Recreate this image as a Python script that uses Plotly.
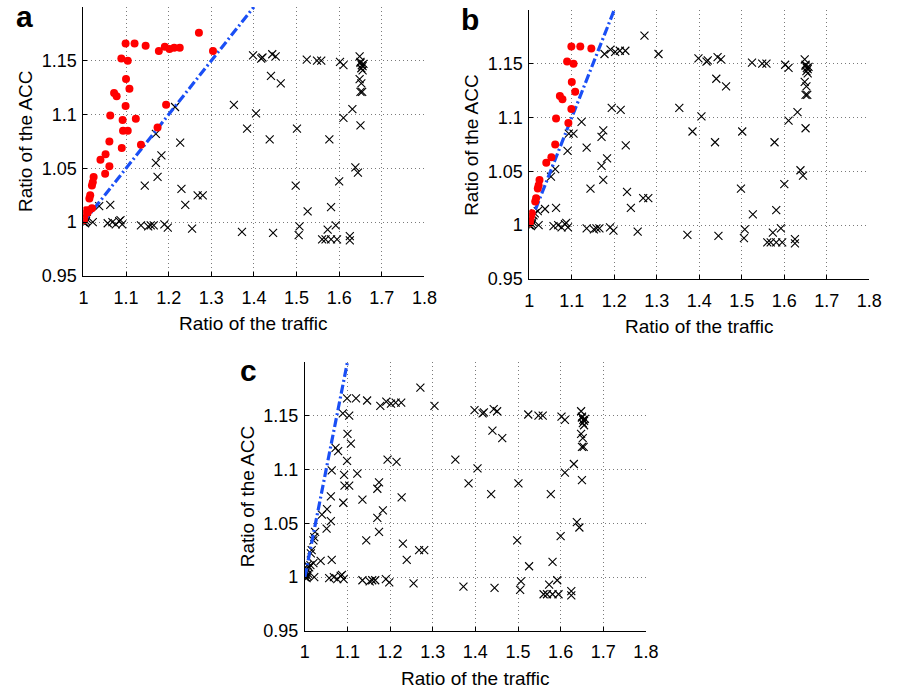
import plotly.graph_objects as go

# ---- data (ratio of traffic, ratio of ACC) ----
traffic = [
    1.271, 1.099, 1.120, 1.146, 1.177, 1.191, 1.202, 1.213, 1.226, 1.304,
    1.089, 1.104, 1.100, 1.108, 1.072, 1.078, 1.099, 1.063, 1.092, 1.123,
    1.194, 1.093, 1.104, 1.174, 1.061, 1.090, 1.135, 1.052, 1.040, 1.061,
    1.051, 1.024, 1.022, 1.020, 1.016, 1.014, 1.020,
    1.002, 1.004, 1.006, 1.010, 1.013, 1.000, 1.002, 1.004, 1.006, 1.001, 1.008,
    1.215, 1.170, 1.227, 1.183, 1.170, 1.174, 1.144, 1.230, 1.239, 1.268,
    1.280, 1.037, 1.063, 1.022, 1.057, 1.068, 1.076, 1.087, 1.091, 1.084,
    1.135, 1.152, 1.158, 1.165, 1.190, 1.198, 1.255, 1.372, 1.445,
    1.398, 1.417, 1.420, 1.443, 1.451, 1.440, 1.463, 1.353, 1.405, 1.384,
    1.437, 1.501, 1.524, 1.548, 1.558, 1.602, 1.610, 1.577, 1.610, 1.631,
    1.650, 1.498, 1.526, 1.581, 1.600, 1.638, 1.644, 1.507, 1.505, 1.573,
    1.592, 1.560, 1.568, 1.581, 1.595, 1.625, 1.625,
    1.648, 1.650, 1.653, 1.655, 1.652, 1.657, 1.655, 1.650, 1.648, 1.652,
    1.650, 1.654,
]
acc = [
    1.176, 1.166, 1.166, 1.164, 1.159, 1.163, 1.161, 1.162, 1.162, 1.159,
    1.152, 1.150, 1.133, 1.124, 1.120, 1.117, 1.108, 1.099, 1.095, 1.096,
    1.109, 1.085, 1.085, 1.088, 1.075, 1.069, 1.072, 1.063, 1.058, 1.052,
    1.045, 1.042, 1.037, 1.034, 1.025, 1.022, 1.013,
    1.004, 1.008, 1.011, 1.009, 1.011, 1.000, 1.000, 0.999, 1.001, 1.002, 1.003,
    1.107, 1.082, 1.074, 1.062, 1.055, 1.042, 1.034, 1.031, 1.016, 1.025,
    1.025, 1.015, 1.016, 1.000, 0.999, 1.000, 0.998, 1.002, 0.998, 1.001,
    0.997, 0.996, 0.997, 0.997, 0.998, 0.995, 0.994, 0.991, 0.990,
    1.155, 1.152, 1.153, 1.156, 1.154, 1.136, 1.129, 1.109, 1.101, 1.087,
    1.077, 1.087, 1.151, 1.150, 1.150, 1.149, 1.146, 1.077, 1.097, 1.105,
    1.090, 1.034, 1.010, 1.014, 1.038, 1.051, 1.046, 0.996, 0.988, 0.993,
    0.997, 0.984, 0.984, 0.984, 0.984, 0.987, 0.983,
    1.154, 1.148, 1.146, 1.145, 1.143, 1.147, 1.141, 1.149, 1.133, 1.129,
    1.121, 1.121,
]

panel_labels = ["a", "b", "c"]
line_slopes = [0.5, 1.0, 2.0]        # blue dash-dot reference line per panel
highlight = [True, True, False]      # red dots for points above the line

x_ticks = [1, 1.1, 1.2, 1.3, 1.4, 1.5, 1.6, 1.7, 1.8]
x_tick_text = ["1", "1.1", "1.2", "1.3", "1.4", "1.5", "1.6", "1.7", "1.8"]
y_ticks = [0.95, 1.0, 1.05, 1.1, 1.15]
y_tick_text = ["0.95", "1", "1.05", "1.1", "1.15"]
x_title = "Ratio of the traffic"
y_title = "Ratio of the ACC"

# ---- layout geometry (pixels) ----
W, H = 898, 699
boxes = [(80, 428, 7, 280), (535, 882, 10, 283), (306, 654, 367, 640)]

FONT = "Liberation Sans, Arial, sans-serif"
TICK_SIZE = 18
TITLE_SIZE = 19
fig = go.Figure()
layout = dict(width=W, height=H, margin=dict(l=0, r=0, t=0, b=0),
              paper_bgcolor="white", plot_bgcolor="white", showlegend=False,
              font=dict(family=FONT, size=16, color="black"))
annotations = []

for i, (x0, x1, y0, y1) in enumerate(boxes):
    sfx = "" if i == 0 else str(i + 1)
    xa, ya = "x" + sfx, "y" + sfx
    slope = line_slopes[i]
    red_x, red_y, blk_x, blk_y = [], [], [], []
    for tx, ay in zip(traffic, acc):
        if highlight[i] and (ay - 1) > slope * (tx - 1):
            red_x.append(tx); red_y.append(ay)
        else:
            blk_x.append(tx); blk_y.append(ay)
    fig.add_trace(go.Scatter(x=blk_x, y=blk_y, mode="markers", xaxis=xa, yaxis=ya,
                             marker=dict(symbol="x-thin", size=8, color="black",
                                         line=dict(width=1.1, color="black"))))
    fig.add_trace(go.Scatter(x=[1, 1 + 0.2 / slope], y=[1, 1.2], mode="lines",
                             xaxis=xa, yaxis=ya,
                             line=dict(color="#1a4ff5", width=3.2, dash="9px,3px,2px,3px")))
    if red_x:
        fig.add_trace(go.Scatter(x=red_x, y=red_y, mode="markers", xaxis=xa, yaxis=ya,
                                 marker=dict(symbol="circle", size=8, color="#ff0000")))
    dom_x = [x0 / W, x1 / W]
    dom_y = [1 - y1 / H, 1 - y0 / H]
    common = dict(showgrid=True, gridcolor="#7a7a7a", griddash="1px,3px", gridwidth=1,
                  showline=True, linecolor="black", linewidth=1, ticks="inside", ticklen=4,
                  tickcolor="black", zeroline=False,
                  tickfont=dict(family=FONT, size=TICK_SIZE, color="black"))
    layout["xaxis" + sfx] = dict(
        domain=dom_x, anchor=ya, range=[1, 1.8], tickvals=x_ticks, ticktext=x_tick_text,
        ticklabelstandoff=5, **common)
    layout["yaxis" + sfx] = dict(
        domain=dom_y, anchor=xa, range=[0.95, 1.2], tickvals=y_ticks, ticktext=y_tick_text,
        ticklabelstandoff=2, **common)
    # axis titles
    annotations.append(dict(text=x_title, xref="paper", yref="paper",
                            x=(x0 + x1) / 2 / W, y=1 - (y1 + 48) / H,
                            showarrow=False, xanchor="center", yanchor="middle",
                            font=dict(family=FONT, size=TITLE_SIZE, color="black")))
    annotations.append(dict(text=y_title, xref="paper", yref="paper",
                            x=(x0 - 59) / W, y=1 - (y0 + y1) / 2 / H, textangle=-90,
                            showarrow=False, xanchor="center", yanchor="middle",
                            font=dict(family=FONT, size=TITLE_SIZE, color="black")))

letter_pos = [(20, 17), (475, 20), (248, 376)]
for lbl, (lx, ly) in zip(panel_labels, letter_pos):
    annotations.append(dict(text="<b>" + lbl + "</b>", xref="paper", yref="paper",
                            x=lx / W, y=1 - ly / H, showarrow=False,
                            xanchor="center", yanchor="middle",
                            font=dict(family=FONT, size=30, color="black")))

layout["annotations"] = annotations
fig.update_layout(**layout)
fig.write_html("out.html")
